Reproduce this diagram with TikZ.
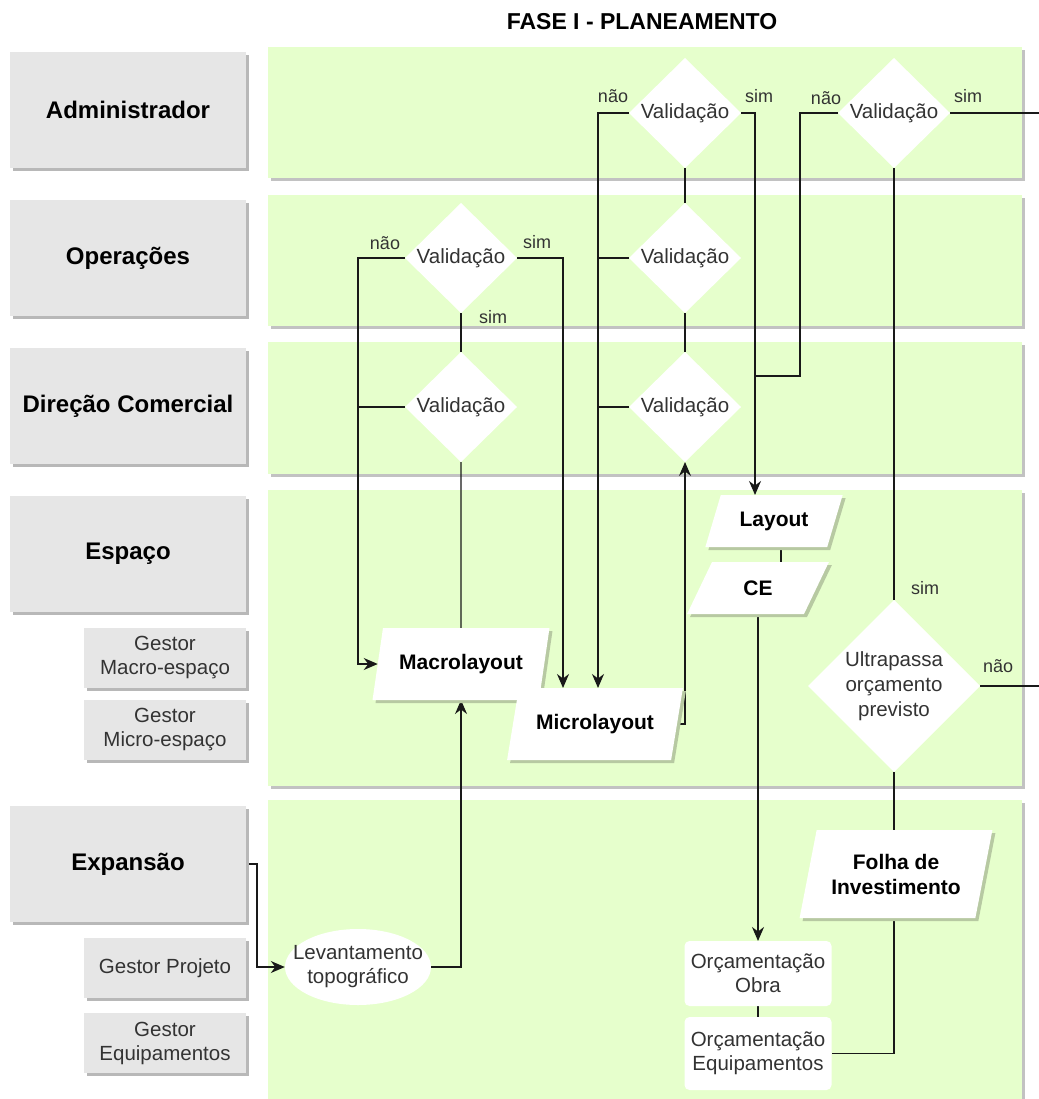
\documentclass[tikz,border=0pt]{standalone}
\usepackage{fontspec}
\setmainfont{Liberation Sans}
\usetikzlibrary{shapes.geometric,arrows.meta,shadows,calc}
\definecolor{lanefill}{HTML}{E6FFCC}
\definecolor{laneshadow}{HTML}{C2C2C2}
\definecolor{hdrfill}{HTML}{E6E6E6}
\definecolor{hdrshadow}{HTML}{B8B8B8}
\definecolor{docshadow}{HTML}{B7C9A2}
\definecolor{txtgray}{HTML}{333333}
\pgfdeclarelayer{lanes}
\pgfdeclarelayer{wires}
\pgfsetlayers{lanes,wires,main}
\begin{document}
\begin{tikzpicture}[x=1pt,y=-1pt,
  hdr/.style={fill=hdrfill, inner sep=0pt, outer sep=0pt, minimum width=236, minimum height=116,
    font=\fontsize{24}{28}\selectfont\bfseries, text=black,
    general shadow={fill=hdrshadow, shadow xshift=3pt, shadow yshift=-3pt}},
  subhdr/.style={fill=hdrfill, inner sep=0pt, outer sep=0pt, minimum width=162, minimum height=60,
    align=center, font=\fontsize{20.5}{24}\selectfont, text=txtgray,
    general shadow={fill=hdrshadow, shadow xshift=3pt, shadow yshift=-3pt}},
  dec/.style={diamond, fill=white, inner sep=0pt, outer sep=0pt, minimum width=112, minimum height=110,
    align=center, font=\fontsize{20.5}{25}\selectfont, text=txtgray},
  doc/.style={trapezium, trapezium stretches=true, fill=white, inner sep=0pt, outer sep=0pt,
    align=center, font=\fontsize{21}{25}\selectfont\bfseries, text=black,
    general shadow={fill=docshadow, shadow xshift=3pt, shadow yshift=-3pt}},
  task/.style={fill=white, rounded corners=5pt, inner sep=0pt, outer sep=0pt, minimum width=147,
    align=center, font=\fontsize{20.5}{24}\selectfont, text=txtgray},
  lbl/.style={inner sep=0pt, font=\fontsize{18}{21}\selectfont, text=txtgray},
  wire/.style={line width=1.3pt, draw=black!90},
  arr/.style={wire, -{Stealth[length=14pt,width=12pt,inset=4.5pt]}}
]
\useasboundingbox (0,0) rectangle (1038,1099);

% title
\node[font=\fontsize{23}{27}\selectfont\bfseries] (title) at (642,22) {FASE I - PLANEAMENTO};

% swimlane bands
\begin{pgfonlayer}{lanes}
  \foreach \ya/\yb in {47/178, 195/326, 342/474, 490/786, 800/1110}{
    \fill[laneshadow] (271,\ya+3) rectangle (1025,\yb+3);
    \fill[lanefill] (268,\ya) rectangle (1022,\yb);
  }
\end{pgfonlayer}

% lane headers
\node[hdr] (hAdm) at (128,110) {Administrador};
\node[hdr] (hOps) at (128,258) {Operações};
\node[hdr] (hDir) at (128,406) {Direção Comercial};
\node[hdr] (hEsp) at (128,554) {Espaço};
\node[hdr] (hExp) at (128,864) {Expansão};
\node[subhdr] (gMacro) at (165,658) {Gestor\\Macro-espaço};
\node[subhdr] (gMicro) at (165,730) {Gestor\\Micro-espaço};
\node[subhdr] (gProj) at (165,968) {Gestor Projeto};
\node[subhdr] (gEquip) at (165,1043) {Gestor\\Equipamentos};

% decisions
\node[dec] (A1) at (685,113) {Validação};
\node[dec] (A2) at (894,113) {Validação};
\node[dec] (O1) at (461,258) {Validação};
\node[dec] (O2) at (685,258) {Validação};
\node[dec] (D1) at (461,407) {Validação};
\node[dec] (D2) at (685,407) {Validação};
\node[dec, minimum width=172, minimum height=172] (U) at (894,686) {Ultrapassa\\orçamento\\previsto};

% documents
\node[doc, trapezium left angle=62, trapezium right angle=118, minimum width=138, minimum height=52] (layout) at (774,521) {Layout};
\node[doc, trapezium left angle=62, trapezium right angle=118, minimum width=142, minimum height=52] (CE) at (758,588) {CE};
\node[doc, trapezium left angle=67, trapezium right angle=113, minimum width=177, minimum height=72] (macro) at (461,664) {Macrolayout};
\node[doc, trapezium left angle=65, trapezium right angle=115, minimum width=176, minimum height=72] (micro) at (595,724) {Microlayout};
\node[doc, trapezium left angle=71, trapezium right angle=109, minimum width=193, minimum height=88] (folha) at (896,874) {Folha de\\Investimento};

% activities
\node[ellipse, fill=white, inner xsep=-16pt, inner ysep=3pt, minimum width=146, minimum height=76, align=center,
  font=\fontsize{20.5}{24}\selectfont, text=txtgray] (lev) at (358,967) {Levantamento\\topográfico};
\node[task, minimum height=65] (obra) at (758,973.5) {Orçamentação\\Obra};
\node[task, minimum height=73] (equip) at (758,1053.5) {Orçamentação\\Equipamentos};

% routing columns and side midpoints of the slanted documents
\coordinate (xL) at (358,0);
\coordinate (xS) at (563,0);
\coordinate (xM) at (598,0);
\coordinate (xR) at (755,0);
\coordinate (kN) at (800,376);
\coordinate (xE) at (1040,0);
\coordinate (macroL) at ($(macro.bottom left corner)!0.5!(macro.top left corner)$);
\coordinate (microR) at ($(micro.bottom right corner)!0.5!(micro.top right corner)$);

% connectors
\begin{pgfonlayer}{wires}
  \draw[arr] (hExp.east) -- ++(11,0) |- (lev.west);
  \draw[arr] (lev.east) -| (macro.south);
  \draw[wire] (macro.north) -- (D1.south);
  \draw[wire] (D1.north) -- (O1.south);
  \draw[arr] (O1.west) -- (O1.west -| xL) |- (macroL);
  \draw[wire] (D1.west) -- (D1.west -| xL);
  \draw[arr] (O1.east) -- (O1.east -| xS) -- (xS |- micro.north);
  \draw[arr] (A1.west) -- (A1.west -| xM) -- (xM |- micro.north);
  \draw[wire] (O2.west) -- (O2.west -| xM);
  \draw[wire] (D2.west) -- (D2.west -| xM);
  \draw[wire] (A1.south) -- (O2.north);
  \draw[wire] (O2.south) -- (D2.north);
  \draw[arr] (microR) -- (microR -| D2) -- (D2.south);
  \draw[arr] (A1.east) -- (A1.east -| xR) -- (xR |- layout.north);
  \draw[wire] (A2.west) -| (kN) -- (kN -| xR);
  \draw[wire] (A2.east) -- (A2.east -| xE);
  \draw[wire] (A2.south) -- (U.north);
  \draw[wire] (U.east) -- (U.east -| xE);
  \draw[wire] (U.south) -- (U.south |- equip.east) -- (equip.east);
  \draw[wire] ([xshift=7pt]layout.south) -- ([xshift=7pt]layout.south |- CE.north);
  \draw[arr] (CE.south) -- (CE.south |- obra.north);
  \draw[wire] (obra.south) -- (equip.north);
\end{pgfonlayer}

% branch labels
\node[lbl] (lA1n) at (613,96) {não};
\node[lbl] (lA1s) at (759,96) {sim};
\node[lbl] (lA2n) at (826,98) {não};
\node[lbl] (lA2s) at (968,96) {sim};
\node[lbl] (lO1n) at (385,243) {não};
\node[lbl] (lO1s) at (537,242) {sim};
\node[lbl] (lO1b) at (493,317) {sim};
\node[lbl] (lUs) at (925,588) {sim};
\node[lbl] (lUn) at (998,666) {não};
\end{tikzpicture}
\end{document}
